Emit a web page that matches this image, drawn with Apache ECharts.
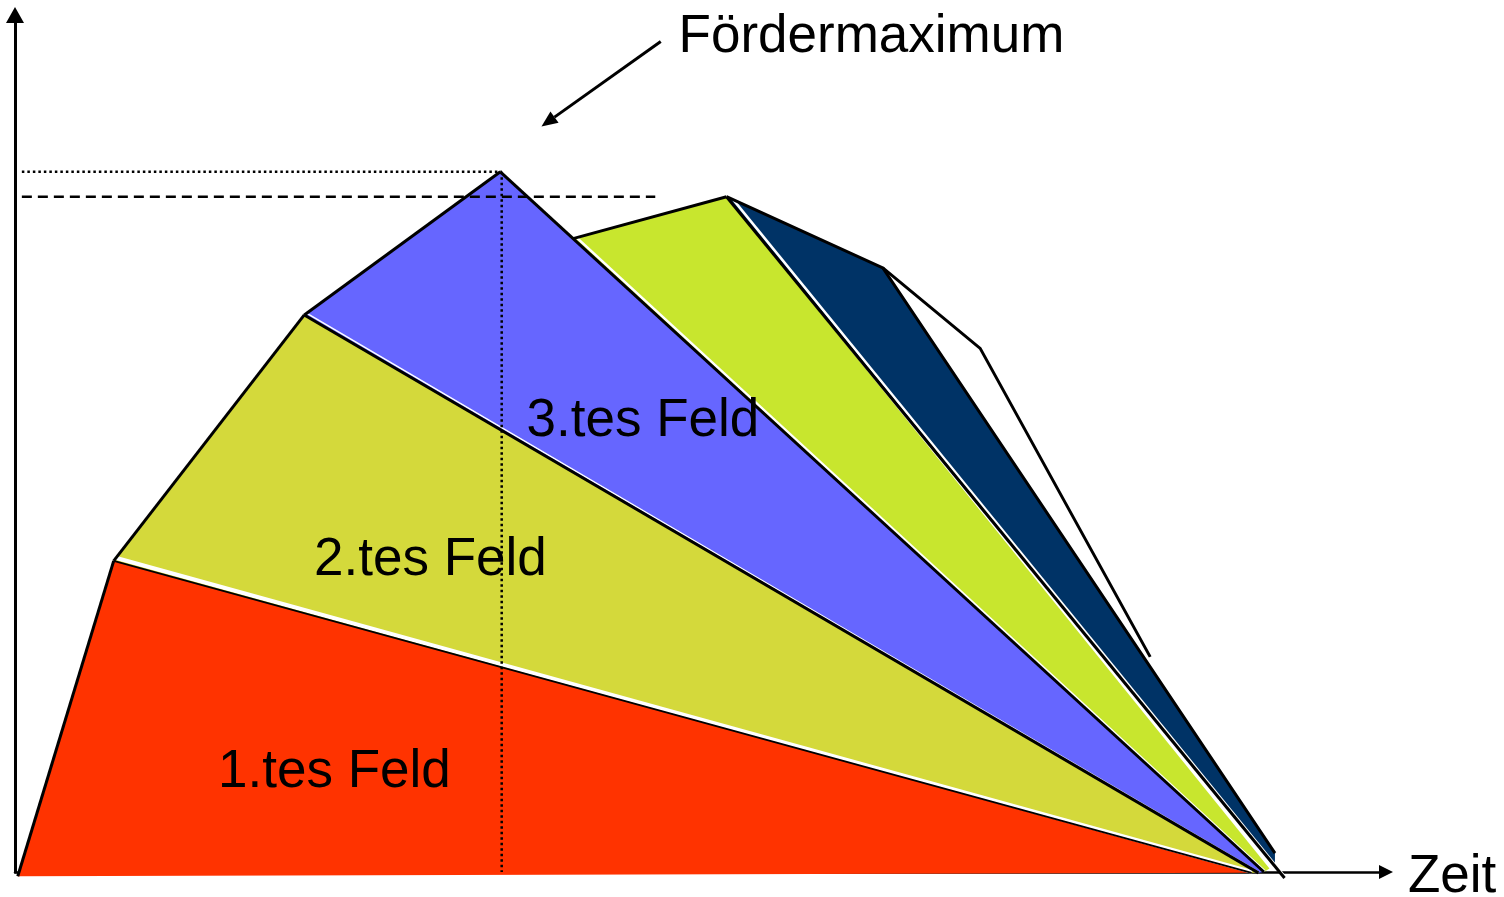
<!DOCTYPE html>
<html>
<head>
<meta charset="utf-8">
<title>Fördermaximum</title>
<script src="https://cdn.jsdelivr.net/npm/echarts@6/dist/echarts.min.js"></script>
<style>
  html, body { margin: 0; padding: 0; background: #fff; }
  #chart { width: 1504px; height: 897px; }
</style>
</head>
<body>
<div id="chart"></div>
<script>
// Production profile: x = Zeit (0..100), y = Förderung (0..100)

// Field polygons (outer points of each producing field)
const field1 = [[0.2, -0.5], [7.2, 36.3], [90.2, -0.1]];
const field2 = [[7.2, 36.3], [21.1, 65.0], [90.7, -0.1], [90.2, -0.1]];
const field3 = [[21.1, 65.0], [35.4, 81.7], [91.1, 0.0], [90.7, -0.1]];
const field4 = [[40.7, 73.9], [51.9, 78.8], [91.5, 0.4], [91.1, 0.0]];
const field5 = [[51.9, 78.8], [63.3, 70.5], [91.9, 2.2], [91.9, 0.7]];
// Future field, drawn as an outline only
const field6 = [[63.3, 70.5], [70.4, 61.1], [82.8, 25.1]];

// Boundaries between fields (black edge with a white rim on the upper side)
const boundary12 = [[7.2, 36.3], [90.2, -0.1]];
const boundary23 = [[21.1, 65.0], [90.7, -0.1]];
const boundary34 = [[35.4, 81.7], [91.1, 0.0]];
const boundary45 = [[51.9, 78.8], [92.6, -0.7]];

// Plain outline segments
const outlines = [
  [[0.2, -0.5], [7.2, 36.3]],
  [[7.2, 36.3], [21.1, 65.0]],
  [[21.1, 65.0], [35.4, 81.7]],
  [[40.7, 73.9], [51.9, 78.8]],
  [[51.9, 78.8], [63.3, 70.5], [91.9, 2.2]]
];

// Reference levels
const peakLevel = 81.7;
const secondLevel = 78.8;
const peakTime = 35.5;
const levelStart = 0.5;
const secondLevelEnd = 46.7;

// Pointer to the production maximum
const pointerFrom = [47.1, 96.9];
const pointerTo = [38.4, 87.0];

// Text labels
const labelTexts = ['Fördermaximum', '3.tes Feld', '2.tes Feld', '1.tes Feld', 'Zeit'];
const labelPositions = [[48.4, 97.35], [45.8, 52.55], [30.3, 36.35], [23.3, 11.65], [101.6, -0.6]];
const labelAligns = ['left', 'center', 'center', 'center', 'left'];

const colors = ['#FF3300', '#D4D93B', '#6666FF', '#C8E62E', '#003366'];
const FONT = '"Liberation Sans", Arial, sans-serif';

function renderAll(params, api) {
  const px = (p) => api.coord(p);
  const children = [];

  // filled fields
  [field1, field2, field3, field4, field5].forEach((poly, i) => {
    children.push({
      type: 'polygon',
      shape: { points: poly.map(px) },
      style: { fill: colors[i], stroke: null }
    });
  });

  // boundary: black line plus white rim shifted toward the upper field
  function boundary(pts, blackW, whiteW, offset) {
    const a = px(pts[0]), b = px(pts[1]);
    const dx = b[0] - a[0], dy = b[1] - a[1];
    const len = Math.hypot(dx, dy);
    let nx = dy / len, ny = -dx / len;
    if (ny > 0) { nx = -nx; ny = -ny; }
    children.push({
      type: 'line',
      shape: { x1: a[0] + nx * offset, y1: a[1] + ny * offset, x2: b[0] + nx * offset * 0.3, y2: b[1] + ny * offset * 0.3 },
      style: { stroke: '#fff', lineWidth: whiteW }
    });
    children.push({
      type: 'line',
      shape: { x1: a[0], y1: a[1], x2: b[0], y2: b[1] },
      style: { stroke: '#000', lineWidth: blackW }
    });
  }
  boundary(boundary12, 2, 4, 3.5);
  boundary(boundary23, 3, 1.5, 2.8);
  boundary(boundary34, 3, 2.5, 3.3);
  boundary(boundary45, 3, 2.5, 3.3);

  outlines.forEach((seg) => {
    children.push({
      type: 'polyline',
      shape: { points: seg.map(px) },
      style: { stroke: '#000', lineWidth: 3, fill: null, lineJoin: 'miter' }
    });
  });
  children.push({
    type: 'polyline',
    shape: { points: field6.map(px) },
    style: { stroke: '#000', lineWidth: 3, fill: null }
  });

  // reference lines
  const p1 = px([levelStart, peakLevel]), p2 = px([peakTime, peakLevel]);
  children.push({
    type: 'line', shape: { x1: p1[0], y1: p1[1], x2: p2[0], y2: p2[1] },
    style: { stroke: '#000', lineWidth: 2.5, lineDash: [2.5, 3] }
  });
  const p3 = px([peakTime, peakLevel]), p4 = px([peakTime, 0]);
  children.push({
    type: 'line', shape: { x1: p3[0], y1: p3[1], x2: p4[0], y2: p4[1] },
    style: { stroke: '#000', lineWidth: 2.5, lineDash: [2.5, 3] }
  });
  const p5 = px([levelStart, secondLevel]), p6 = px([secondLevelEnd, secondLevel]);
  children.push({
    type: 'line', shape: { x1: p5[0], y1: p5[1], x2: p6[0], y2: p6[1] },
    style: { stroke: '#000', lineWidth: 2.5, lineDash: [10, 6] }
  });

  // pointer arrow
  const f = px(pointerFrom), t = px(pointerTo);
  const ux = (t[0] - f[0]), uy = (t[1] - f[1]);
  const ul = Math.hypot(ux, uy);
  const ex = ux / ul, ey = uy / ul;
  const headLen = 16, headW = 7;
  const base = [t[0] - ex * headLen, t[1] - ey * headLen];
  children.push({
    type: 'line', shape: { x1: f[0], y1: f[1], x2: base[0], y2: base[1] },
    style: { stroke: '#000', lineWidth: 3 }
  });
  children.push({
    type: 'polygon',
    shape: { points: [t, [base[0] - ey * headW, base[1] + ex * headW], [base[0] + ey * headW, base[1] - ex * headW]] },
    style: { fill: '#000' }
  });

  // labels
  labelTexts.forEach((txt, i) => {
    const p = px(labelPositions[i]);
    children.push({
      type: 'text',
      x: p[0], y: p[1],
      style: {
        text: txt, fill: '#000',
        font: '53px ' + FONT,
        textAlign: labelAligns[i], textVerticalAlign: 'middle'
      }
    });
  });

  return { type: 'group', children };
}

const chart = echarts.init(document.getElementById('chart'), null, { renderer: 'canvas' });
chart.setOption({
  animation: false,
  backgroundColor: '#fff',
  grid: { left: 15, right: 118, top: 15, bottom: 25 },
  xAxis: {
    type: 'value', min: 0, max: 100,
    axisLine: { show: true, lineStyle: { color: '#000', width: 2.5 }, symbol: ['none', 'triangle'], symbolSize: [14, 14] },
    axisTick: { show: false }, axisLabel: { show: false }, splitLine: { show: false }
  },
  yAxis: {
    type: 'value', min: 0, max: 100,
    axisLine: { show: true, lineStyle: { color: '#000', width: 3 }, symbol: ['none', 'triangle'], symbolSize: [18, 16] },
    axisTick: { show: false }, axisLabel: { show: false }, splitLine: { show: false }
  },
  series: [{
    type: 'custom',
    clip: false,
    silent: true,
    data: [[0, 0]],
    renderItem: renderAll
  }]
});
</script>
</body>
</html>
